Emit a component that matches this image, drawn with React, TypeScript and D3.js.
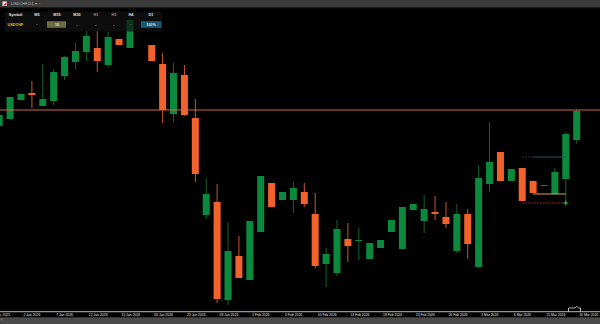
import React from 'react';
import * as d3 from 'd3';

const W = 600;
const H = 324;

const dates = [
  '29 Dec 2025', '30 Dec 2025', '31 Dec 2025', '2 Jan 2026', '5 Jan 2026', '6 Jan 2026', '7 Jan 2026',
  '8 Jan 2026', '9 Jan 2026', '12 Jan 2026', '13 Jan 2026', '14 Jan 2026', '15 Jan 2026', '16 Jan 2026',
  '19 Jan 2026', '20 Jan 2026', '21 Jan 2026', '22 Jan 2026', '23 Jan 2026', '26 Jan 2026', '27 Jan 2026',
  '28 Jan 2026', '29 Jan 2026', '30 Jan 2026', '2 Feb 2026', '3 Feb 2026', '4 Feb 2026', '5 Feb 2026',
  '6 Feb 2026', '9 Feb 2026', '10 Feb 2026', '11 Feb 2026', '12 Feb 2026', '13 Feb 2026', '16 Feb 2026',
  '17 Feb 2026', '18 Feb 2026', '19 Feb 2026', '20 Feb 2026', '23 Feb 2026', '24 Feb 2026', '25 Feb 2026',
  '26 Feb 2026', '27 Feb 2026', '2 Mar 2026', '3 Mar 2026', '4 Mar 2026', '5 Mar 2026', '6 Mar 2026',
  '9 Mar 2026', '10 Mar 2026', '11 Mar 2026', '12 Mar 2026', '13 Mar 2026', '16 Mar 2026',
];

const opens = [
  0.7978, 0.7982, 0.7989, 0.8008, 0.8015, 0.8002, 0.8007, 0.8032, 0.8046, 0.8056, 0.8060, 0.8043, 0.8069, 0.8060,
  0.8106, 0.8063, 0.8044, 0.7994, 0.8033, 0.7990, 0.7893, 0.7906, 0.7808, 0.7852, 0.7828, 0.7876, 0.7925, 0.7908,
  0.7908, 0.7916, 0.7894, 0.7844, 0.7835, 0.7869, 0.7867, 0.7849, 0.7860, 0.7876, 0.7859, 0.7898, 0.7887, 0.7896,
  0.7891, 0.7857, 0.7894, 0.7841, 0.7924, 0.7956, 0.7927, 0.7940, 0.7927, 0.7922, 0.7914, 0.7929, 0.7968,
];
const highs = [
  0.7990, 0.7996, 0.8011, 0.8014, 0.8027, 0.8044, 0.8039, 0.8052, 0.8065, 0.8077, 0.8077, 0.8076, 0.8069, 0.8090,
  0.8108, 0.8063, 0.8055, 0.8045, 0.8043, 0.8009, 0.7930, 0.7924, 0.7886, 0.7872, 0.7887, 0.7932, 0.7925, 0.7916,
  0.7926, 0.7925, 0.7915, 0.7860, 0.7888, 0.7885, 0.7880, 0.7865, 0.7868, 0.7888, 0.7901, 0.7904, 0.7913, 0.7912,
  0.7906, 0.7904, 0.7899, 0.7943, 0.7986, 0.7956, 0.7939, 0.7940, 0.7927, 0.7923, 0.7940, 0.7976, 0.7999,
];
const lows = [
  0.7975, 0.7980, 0.7989, 0.8008, 0.8000, 0.8002, 0.8003, 0.8028, 0.8039, 0.8047, 0.8036, 0.8041, 0.8063, 0.8060,
  0.8101, 0.8047, 0.7985, 0.7986, 0.7992, 0.7926, 0.7889, 0.7805, 0.7803, 0.7830, 0.7828, 0.7876, 0.7901, 0.7908,
  0.7895, 0.7901, 0.7840, 0.7821, 0.7832, 0.7846, 0.7848, 0.7849, 0.7860, 0.7876, 0.7859, 0.7898, 0.7875, 0.7888,
  0.7880, 0.7855, 0.7849, 0.7840, 0.7916, 0.7927, 0.7927, 0.7907, 0.7915, 0.7922, 0.7914, 0.7905, 0.7964,
];
const closes = [
  0.7988, 0.7993, 0.8011, 0.8014, 0.8013, 0.8009, 0.8036, 0.8051, 0.8057, 0.8072, 0.8047, 0.8071, 0.8063, 0.8088,
  0.8102, 0.8047, 0.7998, 0.8035, 0.7993, 0.7934, 0.7914, 0.7809, 0.7857, 0.7830, 0.7887, 0.7932, 0.7901, 0.7916,
  0.7920, 0.7904, 0.7842, 0.7854, 0.7879, 0.7862, 0.7868, 0.7865, 0.7868, 0.7888, 0.7901, 0.7904, 0.7899, 0.7894,
  0.7884, 0.7894, 0.7864, 0.7930, 0.7946, 0.7927, 0.7939, 0.7907, 0.7915, 0.7923, 0.7936, 0.7974, 0.7997,
];

const levelPrice = 0.7998;
const entryPrice = 0.7951;
const takePrice = 0.7914;
const stopPrice = 0.7905;
const tradeStart = '9 Mar 2026';
const tradeMid = '10 Mar 2026';
const tradeEnd = '13 Mar 2026';

const panelHeaders = ['Symbol', 'M5', 'M15', 'M30', 'H1', 'H3', 'H4', 'D1'];
const panelValues = ['USDCHF', '·', '10', '-', '-', '-', '·', '100%'];

const UP = '#0b8a3d';
const DOWN = '#f4622c';
const UP_WICK = '#13622f';
const DOWN_WICK = '#c9572c';

export default function App() {
  const x = d3.scalePoint<string>().domain(dates).range([-11.7, 576.7]);
  const y = d3.scaleLinear().domain([0.78, 0.81]).range([308, 8]);
  const bw = 7;
  const axisY = 311.7;
  const labelDates = dates.filter((_, i) => i % 3 === 0);
  const colX = [15.5, 37, 57, 77, 96, 114, 131, 151];

  return (
    <svg width={W} height={H} style={{ position: 'absolute', left: 0, top: 0, display: 'block', background: '#000' }}
      fontFamily="'Liberation Sans', Arial, sans-serif">
      <rect x={0} y={0} width={W} height={H} fill="#000" />
      {dates.map((d, i) => {
        const o = opens[i], c = closes[i], hi = highs[i], lo = lows[i];
        const up = c >= o;
        const cx = x(d)!;
        const top = y(Math.max(o, c));
        const bot = y(Math.min(o, c));
        return (
          <g key={d}>
            <rect x={cx - 0.5} y={y(hi)} width={1} height={Math.max(0.5, y(lo) - y(hi))} fill={up ? UP_WICK : DOWN_WICK} />
            <rect x={cx - bw / 2} y={top} width={bw} height={Math.max(1, bot - top)} fill={up ? UP : DOWN} />
          </g>
        );
      })}
      {/* horizontal level */}
      <line x1={0} x2={W} y1={y(levelPrice)} y2={y(levelPrice)} stroke="#d06848" strokeWidth={1} />
      {/* trade lines */}
      <line x1={x(tradeStart)!} x2={x(tradeMid)!} y1={y(entryPrice)} y2={y(entryPrice)} stroke="#2e3f4e" strokeWidth={1} strokeDasharray="1.5 1.5" />
      <line x1={x(tradeMid)!} x2={x(tradeEnd)!} y1={y(entryPrice)} y2={y(entryPrice)} stroke="#2d4f6c" strokeWidth={1} />
      <line x1={x(tradeMid)!} x2={x(tradeEnd)!} y1={y(takePrice)} y2={y(takePrice)} stroke="#d2a860" strokeWidth={1} />
      <line x1={x(tradeStart)!} x2={x(tradeEnd)!} y1={y(stopPrice)} y2={y(stopPrice)} stroke="#c03030" strokeWidth={1} strokeDasharray="1.5 1.5" />
      <g stroke="#3cc050" strokeWidth={1}>
        <line x1={x(tradeEnd)! - 2.5} x2={x(tradeEnd)! + 2.5} y1={y(stopPrice)} y2={y(stopPrice)} />
        <line x1={x(tradeEnd)!} x2={x(tradeEnd)!} y1={y(stopPrice) - 2.5} y2={y(stopPrice) + 2.5} />
      </g>

      {/* top bar */}
      <rect x={0} y={0} width={W} height={7.5} fill="#3a3a3a" />
      <rect x={0} y={7.5} width={W} height={0.8} fill="#1a1a1a" />
      <rect x={2.5} y={1.5} width={4.5} height={4.5} fill="#e8e8e8" />
      <path d="M3,5.5 L6.5,2 L6.5,5.5 Z" fill="#d03030" />
      <text x={11} y={5.3} fontSize={4} fill="#bdbdbd">USDCHF,D1</text>
      <rect x={32.5} y={1.5} width={0.6} height={4.5} fill="#777" />
      <text x={35} y={5.3} fontSize={4} fill="#aaa">▾</text>
      <text x={39} y={5.3} fontSize={4} fill="#aaa">‹</text>

      {/* panel */}
      <rect x={4.7} y={11.7} width={157.3} height={20} fill="#121212" fillOpacity={0.72} />
      {panelHeaders.map((h, i) => (
        <text key={h} x={colX[i]} y={16.4} fontSize={3.8} textAnchor="middle" fontWeight="bold"
          fill={i === 4 || i === 5 ? '#9a9a9a' : '#e6e6e6'}>{h}</text>
      ))}
      <rect x={47} y={21.2} width={19} height={6.6} fill="#6e6a44" />
      <rect x={141} y={21.2} width={20.5} height={6.6} fill="#1c5a78" />
      {panelValues.map((v, i) => (
        <text key={i} x={colX[i]} y={25.8} fontSize={3.8} textAnchor="middle" fontWeight="bold"
          fill={i === 0 ? '#e2c23a' : '#dcdcdc'}>{v}</text>
      ))}

      {/* time axis */}
      <rect x={0} y={axisY - 0.5} width={W} height={1} fill="#b8b8b8" />
      {labelDates.map((d) => (
        <text key={d} x={x(d)! + 2.5} y={316} fontSize={3.4} fill="#e8e8e8">{d}</text>
      ))}
      <rect x={0} y={317.3} width={W} height={H - 317.3} fill="#4a4a4a" />
      <rect x={1.5} y={318.5} width={0.8} height={2} fill="#999" />
      <path d="M568.5,311.5 V308 H575 L576.8,306.3 L578.6,308 H580.5 V311.5" fill="none" stroke="#e0e0e0" strokeWidth={0.8} />
    </svg>
  );
}
